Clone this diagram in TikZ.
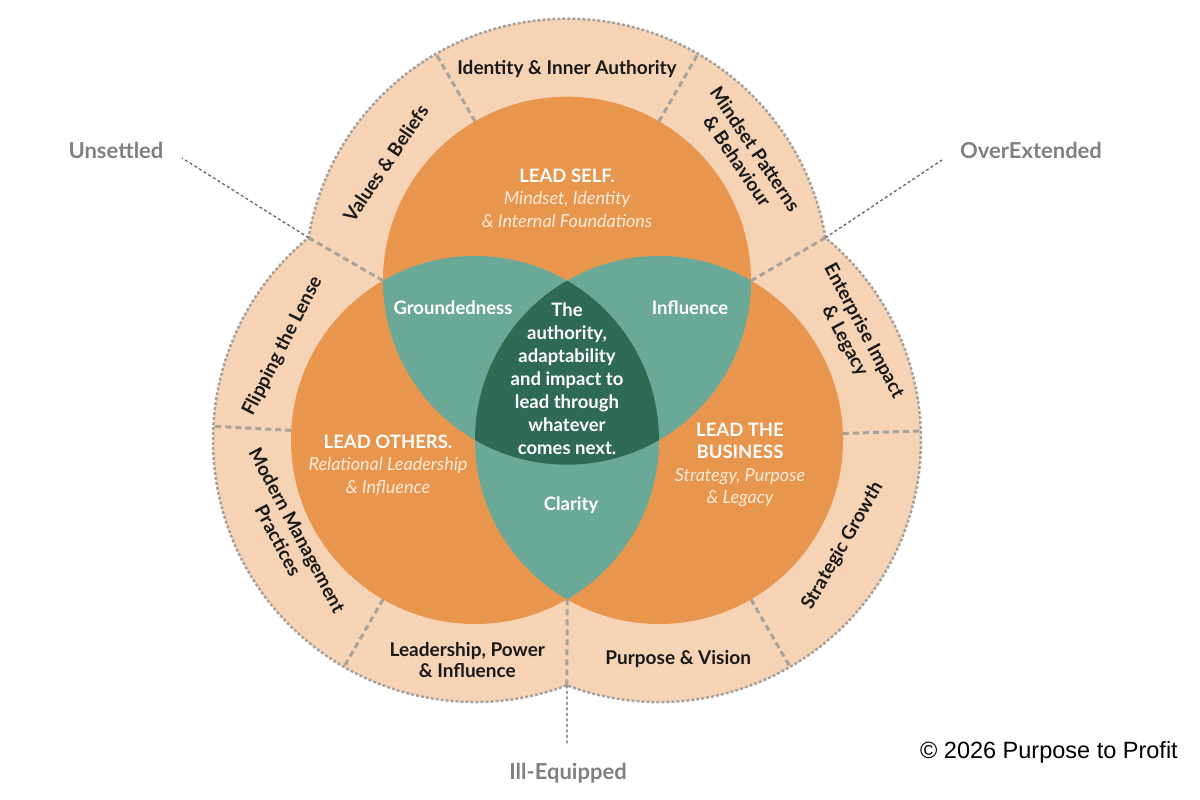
\documentclass[tikz,border=0pt]{standalone}
\usepackage{fontspec}
\setmainfont{Lato}
\newfontfamily\copyfont{Liberation Sans}
\usetikzlibrary{positioning}

\definecolor{ringpeach}{HTML}{F6D3B5}
\definecolor{leadorange}{HTML}{E8954D}
\definecolor{lensteal}{HTML}{6AA897}
\definecolor{coregreen}{HTML}{2F6A55}
\definecolor{dashgrey}{HTML}{A8A29D}
\definecolor{sidegrey}{HTML}{808080}
\definecolor{subcream}{HTML}{FCEBD9}

\newcommand{\leadsub}[1]{{\mdseries\itshape\fontsize{18}{22.5}\selectfont\color{subcream}#1}}

\begin{document}
\begin{tikzpicture}[x=1pt,y=1pt,
  ringtxt/.style={font=\bfseries\fontsize{19}{21.5}\selectfont,align=center,text=black!90,inner sep=0pt},
  innertxt/.style={font=\bfseries\fontsize{18.5}{22.5}\selectfont,align=center,text=white,inner sep=0pt},
  sidetxt/.style={font=\bfseries\fontsize{22}{26}\selectfont,text=sidegrey,inner sep=0pt},
  divider/.style={draw=dashgrey,line width=3pt,dash pattern=on 6pt off 4pt},
  rim/.style={draw=dashgrey,line width=2.5pt,dash pattern=on 3pt off 2pt},
  leader/.style={draw=black!60,line width=1.3pt,dash pattern=on 3pt off 2.5pt}]
\useasboundingbox (0,0) rectangle (1200,800);
\def\rin{184}
\def\rout{262}
\pgfmathsetmacro\notchang{acos(92/\rout)}

\coordinate (T) at (567,519.3);
\coordinate (L) at (475,360);
\coordinate (R) at (659,360);

% outer ring
\path[fill=ringpeach,rim] (T) ++(\notchang-60:\rout)
  arc[start angle=\notchang-60,end angle=240-\notchang,radius=\rout]
  arc[start angle=60+\notchang,end angle=360-\notchang,radius=\rout]
  arc[start angle=180+\notchang,end angle=480-\notchang,radius=\rout] -- cycle;
\path (T) +(240-\notchang:\rout) coordinate (nTL)
          +(\notchang-60:\rout) coordinate (nTR);
\path (L) +(360-\notchang:\rout) coordinate (nB);

% the three circles
\fill[leadorange] (T) circle[radius=\rin];
\fill[leadorange] (L) circle[radius=\rin];
\fill[leadorange] (R) circle[radius=\rin];
\begin{scope}
  \clip (L) circle[radius=\rin];
  \fill[lensteal] (R) circle[radius=\rin];
\end{scope}
\begin{scope}
  \clip (T) circle[radius=\rin];
  \fill[lensteal] (L) circle[radius=\rin];
  \fill[lensteal] (R) circle[radius=\rin];
  \clip (L) circle[radius=\rin];
  \fill[coregreen] (R) circle[radius=\rin];
\end{scope}

% ring dividers
\foreach \c/\a in {T/60,T/120,L/177,L/240,R/2,R/300}
  \draw[divider] (\c) ++(\a:\rin) -- ++(\a:\rout-\rin);
\draw[divider] (T) ++(180:\rin) -- (nTL);
\draw[divider] (T) ++(0:\rin) -- (nTR);
\draw[divider] (L) ++(300:\rin) -- (nB);

% ring labels
\path (T) +(90:212)  node[ringtxt] (idauth) {Identity \& Inner Authority}
          +(147:216) node[ringtxt,rotate=56] (values) {Values \& Beliefs}
          +(35:219)  node[ringtxt,rotate=-56] (mindset) {Mindset Patterns\\\& Behaviour};
\path (L) +(154:214) node[ringtxt,rotate=63] (flip) {Flipping the Lense}
          +(207:210) node[ringtxt,rotate=-62] (modern) {Modern Management\\Practices}
          +(268:220) node[ringtxt] (power) {Leadership, Power\\\& Influence};
\path (R) +(28:221)  node[ringtxt,rotate=-62] (enterprise) {Enterprise Impact\\\& Legacy}
          +(-30:212) node[ringtxt,rotate=60] (growth) {Strategic Growth}
          +(275:220) node[ringtxt] (vision) {Purpose \& Vision};

% inner labels
\node[innertxt] (leadself) at (567,602) {LEAD SELF.\\\leadsub{Mindset, Identity}\\\leadsub{\& Internal Foundations}};
\node[innertxt] (leadothers) at (388,335) {LEAD OTHERS.\\\leadsub{Relational Leadership}\\\leadsub{\& Influence}};
\node[innertxt] (leadbiz) at (740,335) {LEAD THE\\BUSINESS\\\leadsub{Strategy, Purpose}\\\leadsub{\& Legacy}};
\node[innertxt] (ground) at (453,492) {Groundedness};
\node[innertxt] (influence) at (690,492) {Influence};
\node[innertxt] (clarity) at (571,295) {Clarity};
\node[innertxt,font=\bfseries\fontsize{18.5}{23}\selectfont] (core) at (567,421) {The\\authority,\\adaptability\\and impact to\\lead through\\whatever\\comes next.};

% outside states
\node[sidetxt] (unsettled) at (116,650) {Unsettled};
\node[sidetxt] (overext) at (1031,650) {OverExtended};
\node[sidetxt] (illequip) at (568,27) {Ill-Equipped};
\coordinate (uEnd) at (182,642);
\coordinate (oEnd) at (942,640);
\coordinate (iEnd) at (567,55);
\draw[leader] (nTL) -- (uEnd);
\draw[leader] (nTR) -- (oEnd);
\draw[leader] (nB) -- (iEnd);

\node[font=\copyfont\fontsize{23.5}{28}\selectfont,anchor=east,inner sep=0pt] (copyr) at (1178,48) {© 2026 Purpose to Profit};
\end{tikzpicture}
\end{document}
